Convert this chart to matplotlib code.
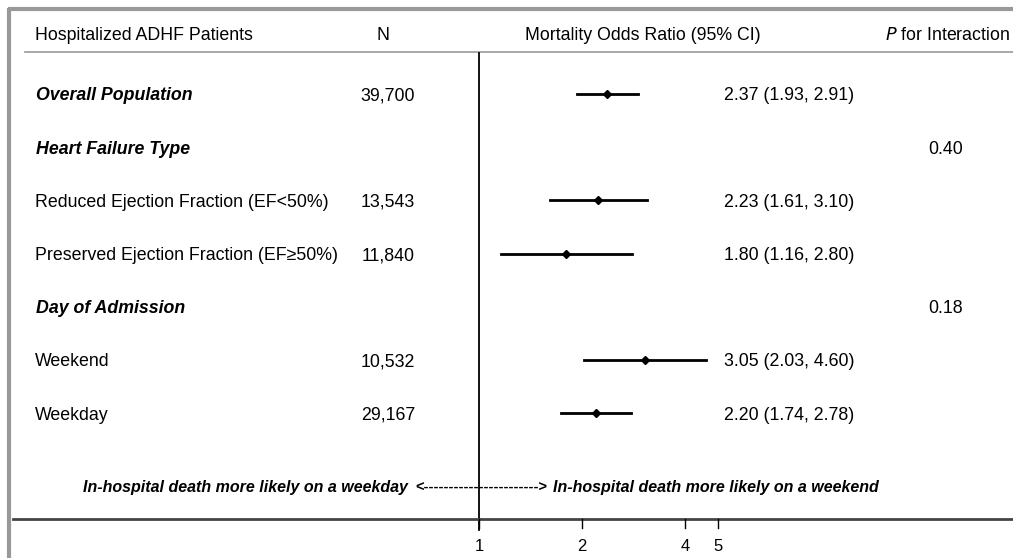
import numpy as np
import matplotlib.pyplot as plt

plt.rcParams['font.family'] = ['Liberation Sans', 'DejaVu Sans']

# Data
labels = ["Overall Population", "Heart Failure Type",
          "Reduced Ejection Fraction (EF<50%)", "Preserved Ejection Fraction (EF\u226550%)",
          "Day of Admission", "Weekend", "Weekday"]
is_header = [True, True, False, False, True, False, False]
n_text = ["39,700", "", "13,543", "11,840", "", "10,532", "29,167"]
odds = [2.37, np.nan, 2.23, 1.80, np.nan, 3.05, 2.20]
lower = [1.93, np.nan, 1.61, 1.16, np.nan, 2.03, 1.74]
upper = [2.91, np.nan, 3.10, 2.80, np.nan, 4.60, 2.78]
p_inter = ["", "0.40", "", "", "0.18", "", ""]
xticks = [1, 2, 4, 5]

W, H = 1013, 558
fs = 12.8
va = 'center_baseline'

fig = plt.figure(figsize=(W / 100, H / 100), dpi=100)
ax = fig.add_axes([0, 0, 1, 1])
ax.set_xscale('log', base=2)
# pixel layout: OR=1 at x=479, 103 px per doubling
ax.set_xlim(2 ** (-479 / 103), 2 ** ((W - 479) / 103))
ax.set_ylim(H, 0)
ax.axis('off')

fx = lambda px: px / W  # figure-x fraction for text columns
tr = ax.get_yaxis_transform()  # x in axes fraction, y in pixels

row_y = 94 + 53.2 * np.arange(len(labels))

# frame
ax.plot([fx(8), 1], [9, 9], transform=tr, color='#999999', lw=3, solid_capstyle='butt')
ax.plot([fx(9), fx(9)], [8, H], transform=tr, color='#999999', lw=3, solid_capstyle='butt')

# header
ax.text(fx(35), 34, "Hospitalized ADHF Patients", transform=tr, fontsize=fs, va=va)
ax.text(fx(383), 34, "N", transform=tr, fontsize=fs, va=va, ha='center')
ax.text(fx(643), 34, "Mortality Odds Ratio (95% CI)", transform=tr, fontsize=fs, va=va, ha='center')
ax.text(fx(1010), 34, "$P$ for Interaction", transform=tr, fontsize=fs, va=va, ha='right')
ax.plot([fx(25), 1], [52, 52], transform=tr, color='#999999', lw=1.2)

# reference line at OR = 1
ax.plot([1, 1], [53, 530], color='black', lw=1.3)

for i, y in enumerate(row_y):
    if is_header[i]:
        ax.text(fx(36), y, labels[i], transform=tr, fontsize=fs, va=va,
                fontweight='bold', fontstyle='italic')
    else:
        ax.text(fx(35), y, labels[i], transform=tr, fontsize=fs, va=va)
    if n_text[i]:
        ax.text(fx(388), y, n_text[i], transform=tr, fontsize=fs, va=va, ha='center')
    if not np.isnan(odds[i]):
        ax.plot([lower[i], upper[i]], [y, y], color='black', lw=2)
        ax.plot(odds[i], y, marker='D', color='black', markersize=4.2)
        ax.text(fx(724), y, f"{odds[i]:.2f} ({lower[i]:.2f}, {upper[i]:.2f})",
                transform=tr, fontsize=fs, va=va)
    if p_inter[i]:
        ax.text(fx(946), y, p_inter[i], transform=tr, fontsize=fs, va=va, ha='center')

# direction annotation
ax.text(fx(408), 486, "In-hospital death more likely on a weekday", transform=tr,
        fontsize=11.5, va=va, ha='right', fontweight='bold', fontstyle='italic')
ax.text(fx(481), 486, "<----------------------->", transform=tr,
        fontsize=10.5, va=va, ha='center', fontweight='bold')
ax.text(fx(553), 486, "In-hospital death more likely on a weekend", transform=tr,
        fontsize=11.5, va=va, ha='left', fontweight='bold', fontstyle='italic')

# x axis
ax.plot([fx(13), 1], [519, 519], transform=tr, color='#444444', lw=2)
for t in xticks:
    ax.plot([t, t], [519, 528], color='black', lw=1)
    ax.text(t, 545, str(t), fontsize=12, ha='center', va=va)

fig.savefig("out.png", dpi=100)
